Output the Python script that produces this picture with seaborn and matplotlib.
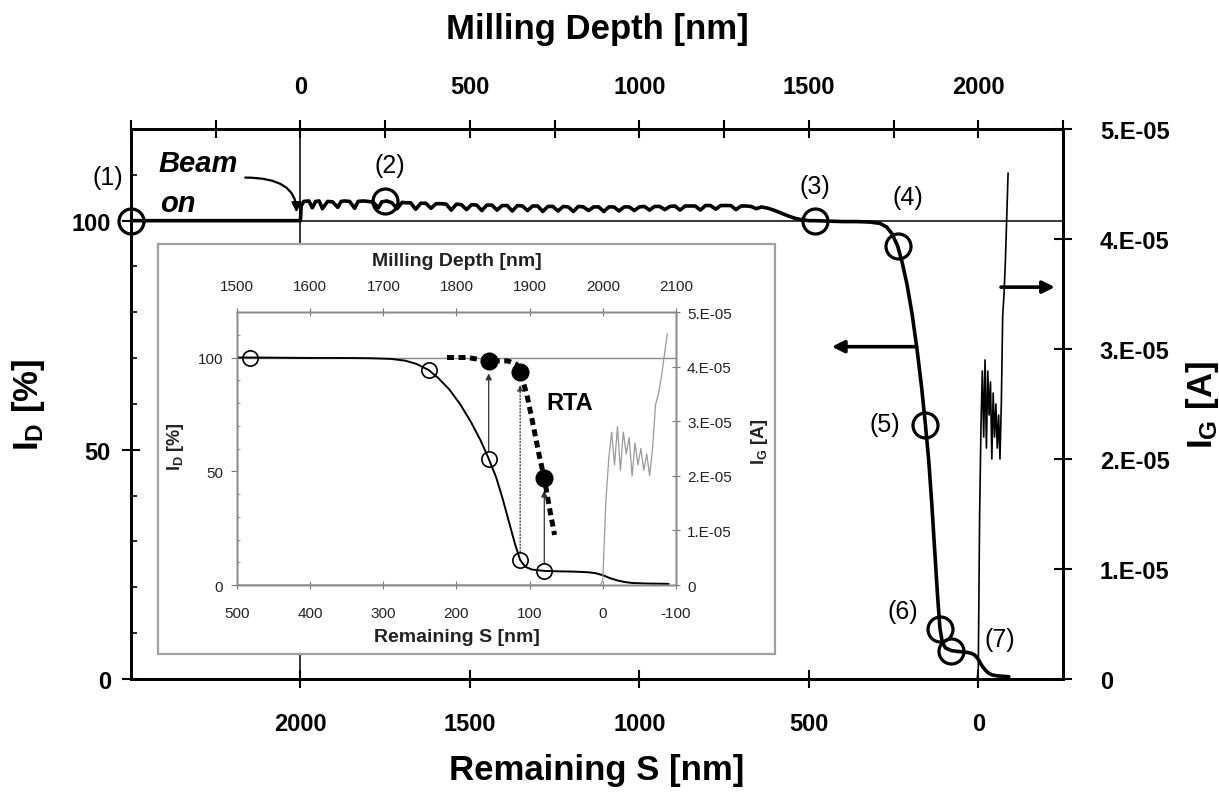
import matplotlib
matplotlib.use("Agg")
import matplotlib.pyplot as plt
import seaborn as sns
from matplotlib.patches import Rectangle

# ---------------- data ----------------
# I_D trace (remaining S [nm], I_D [%]) : before beam on
pre_s = [2500, 2000]
pre_v = [100, 100]
# noisy plateau while milling
plat_s = [1998, 1990, 1975, 1965, 1955, 1945, 1935, 1920, 1905, 1890,
          1880, 1870, 1855, 1840, 1830, 1815, 1800, 1785, 1770, 1760,
          1745, 1730, 1715, 1700, 1690, 1675, 1660, 1645, 1630, 1615,
          1600, 1585, 1570, 1555, 1540, 1525, 1510, 1495, 1480, 1465,
          1450, 1435, 1420, 1405, 1390, 1375, 1360, 1345, 1330, 1315,
          1300, 1285, 1270, 1255, 1240, 1225, 1210, 1195, 1180, 1165,
          1150, 1135, 1120, 1105, 1090, 1075, 1060, 1045, 1030, 1015,
          1000, 985, 970, 955, 940, 925, 910, 895, 880, 865,
          850, 835, 820, 805, 790, 775, 760, 745, 730, 715,
          700, 685, 670, 655, 640, 620, 600, 580, 560, 540,
          520, 500]
plat_v = [103.2, 104.2, 104.3, 102.8, 104.2, 104.3, 102.6, 104.2, 104.1, 102.9,
          104.2, 104.3, 104.2, 102.7, 104.2, 104.3, 104.2, 104.0, 102.8, 104.1,
          104.3, 103.9, 102.6, 104.0, 103.9, 103.9, 102.5, 103.8, 103.8, 102.7,
          103.7, 103.7, 103.6, 102.3, 103.6, 103.5, 102.4, 103.5, 103.4, 102.2,
          103.4, 103.4, 102.3, 103.3, 103.3, 102.1, 103.3, 103.2, 102.2, 103.2,
          103.2, 102.0, 103.1, 103.1, 102.1, 103.1, 103.0, 102.0, 103.1, 103.0,
          102.2, 103.0, 103.0, 102.0, 103.0, 103.0, 102.1, 103.0, 103.0, 102.2,
          103.0, 103.1, 102.3, 103.1, 103.1, 102.4, 103.1, 103.2, 102.3, 103.2,
          103.2, 103.2, 102.3, 103.3, 103.3, 102.5, 103.3, 103.3, 103.3, 102.4,
          103.2, 103.2, 103.1, 102.6, 103.0, 102.7, 102.2, 101.6, 101.0, 100.5,
          100.2, 100.0]
# drop-off near the channel
drop_s = [482, 440, 400, 360, 320, 290, 270, 255, 238, 225,
          210, 195, 180, 167, 156, 146, 137, 128, 120, 113,
          106, 97, 80, 60, 40, 20, 10, 0, -10, -20,
          -30, -40, -55, -70, -90]
drop_v = [100.0, 99.9, 99.8, 99.8, 99.7, 99.4, 98.6, 97.2, 94.5, 91.0,
          86.0, 79.5, 71.5, 63.5, 55.5, 47.5, 38.0, 27.5, 18.0, 11.0,
          8.0, 6.8, 6.2, 6.0, 5.9, 5.6, 5.2, 4.3, 3.0, 2.0,
          1.3, 0.9, 0.7, 0.6, 0.5]

# gate current I_G [A] vs remaining S
ig_s = [2500, 3, 0, -4, -8, -12, -16, -20, -24, -28, -32, -36, -40,
        -44, -48, -52, -56, -60, -64, -68, -72, -76, -80, -84, -88]
ig_a = [0, 0, 0.1e-5, 1.5e-5, 2.3e-5, 2.8e-5, 2.2e-5, 2.9e-5, 2.1e-5, 2.8e-5,
        2.4e-5, 2.7e-5, 2.0e-5, 2.6e-5, 2.2e-5, 2.5e-5, 2.1e-5, 2.4e-5, 2.0e-5,
        2.5e-5, 3.3e-5, 3.5e-5, 3.8e-5, 4.2e-5, 4.6e-5]

# marked points (1)..(7)
mark_s = [2500, 1750, 482, 238, 156, 113, 80]
mark_v = [100, 104.3, 100, 94.5, 55.5, 11.0, 6.2]
mark_labels = ["(1)", "(2)", "(3)", "(4)", "(5)", "(6)", "(7)"]
mark_label_s = [2568, 1736, 482, 207, 275, 222, -64]
mark_label_v = [109.5, 112.2, 107.6, 105.2, 55.6, 14.8, 8.7]

# inset: after RTA
rta_s = [213, 185, 156, 130, 118, 113, 104, 95, 87, 80, 73, 66]
rta_v = [100, 100, 98.5, 98.5, 97, 93.5, 84, 70, 57, 47, 34, 22]
rta_pt_s = [156, 113, 80]
rta_pt_v = [98.5, 93.5, 47]
inset_open_s = [482, 238, 156, 113, 80]
inset_open_v = [100, 94.5, 55.5, 11.0, 6.2]

# ticks
bot_major = [2000, 1500, 1000, 500, 0]
bot_labels = ["2000", "1500", "1000", "500", "0"]
bot_minor = [2500, 2250, 1750, 1250, 750, 250, -250]
top_major = [0, 500, 1000, 1500, 2000]
top_labels = ["0", "500", "1000", "1500", "2000"]
top_minor = [-500, -250, 250, 750, 1250, 1750, 2250]
left_major = [0, 50, 100]
left_minor = [10, 20, 30, 40, 60, 70, 80, 90, 110]
right_ticks = [0, 1e-5, 2e-5, 3e-5, 4e-5, 5e-5]
right_labels = ["0", "1.E-05", "2.E-05", "3.E-05", "4.E-05", "5.E-05"]
ins_x_ticks = [500, 400, 300, 200, 100, 0, -100]
ins_x_labels = ["500", "400", "300", "200", "100", "0", "-100"]
ins_top_ticks = [1500, 1600, 1700, 1800, 1900, 2000, 2100]
ins_top_labels = ["1500", "1600", "1700", "1800", "1900", "2000", "2100"]

# ---------------- style ----------------
sns.set_theme(style="ticks")
plt.rcParams['font.family'] = ['Liberation Sans', 'DejaVu Sans']
plt.rcParams['font.weight'] = 'bold'
plt.rcParams['mathtext.fontset'] = 'custom'
plt.rcParams['mathtext.rm'] = 'Liberation Sans:bold'
plt.rcParams['mathtext.bf'] = 'Liberation Sans:bold'
plt.rcParams['mathtext.it'] = 'Liberation Sans:bold:italic'
for k in ['text.color', 'axes.labelcolor', 'xtick.color', 'ytick.color', 'axes.edgecolor']:
    plt.rcParams[k] = 'black'

id_s = pre_s + plat_s + drop_s
id_v = pre_v + plat_v + drop_v

fig = plt.figure(figsize=(12.19, 8.03), dpi=100)
ax = fig.add_axes([0.10747, 0.15318, 0.76456, 0.68493])
ax2 = ax.twinx()
axT = ax.twiny()

# reference lines
ax.axhline(100, color='black', lw=1.1, zorder=1)
ax.axvline(2000, color='black', lw=1.1, zorder=1)

# main curves
sns.lineplot(x=id_s, y=id_v, ax=ax, color='black', lw=2.6, sort=False,
             estimator=None, legend=False, zorder=3)
sns.lineplot(x=mark_s, y=mark_v, ax=ax, linestyle='', marker='o', markersize=18,
             markerfacecolor='none', markeredgecolor='black', markeredgewidth=2.3,
             sort=False, estimator=None, legend=False, clip_on=False, zorder=5)
sns.lineplot(x=ig_s, y=ig_a, ax=ax2, color='black', lw=1.2, sort=False,
             estimator=None, legend=False)

ax.set_xlim(2500, -250)
ax.set_ylim(0, 120)
ax2.set_ylim(0, 5e-5)
axT.set_xlim(-500, 2250)

for a in (ax, ax2, axT):
    for sp in a.spines.values():
        sp.set_linewidth(1.8)
        sp.set_color('black')

ax.set_xticks(bot_major, labels=bot_labels)
ax.set_xticks(bot_minor, minor=True)
ax.tick_params(axis='x', which='both', direction='inout', length=13, width=1.5,
               pad=17, labelsize=17, bottom=True, top=False)
ax.set_yticks(left_major, labels=[str(t) for t in left_major])
ax.set_yticks(left_minor, minor=True)
ax.tick_params(axis='y', which='major', direction='inout', length=13, width=1.5,
               pad=8, labelsize=17, left=True, right=False)
ax.tick_params(axis='y', which='minor', direction='in', length=4, width=1.2,
               left=True, right=False)

axT.set_xticks(top_major, labels=top_labels)
axT.set_xticks(top_minor, minor=True)
axT.tick_params(axis='x', which='both', direction='inout', length=13, width=1.5,
                pad=16, labelsize=17, top=True, bottom=False, labeltop=True, labelbottom=False)

ax2.set_yticks(right_ticks, labels=right_labels)
ax2.tick_params(axis='y', which='major', direction='inout', length=13, width=1.5,
                pad=20, labelsize=17, right=True, left=False)
ax2.minorticks_off()

ax.set_xlabel("Remaining S [nm]", fontsize=25, fontweight='bold')
ax.xaxis.set_label_coords(0.5, -0.164)
ax.xaxis.label.set_va('center')
axT.set_xlabel("Milling Depth [nm]", fontsize=25, fontweight='bold')
axT.xaxis.set_label_coords(0.5, 1.182)
axT.xaxis.label.set_va('center')
ax.set_ylabel(r"I$_\mathrm{D}$ [%]", fontsize=25, fontweight='bold')
ax.yaxis.set_label_coords(-0.1105, 0.5)
ax.yaxis.label.set_va('center')
ax2.set_ylabel(r"I$_\mathrm{G}$ [A]", fontsize=25, fontweight='bold', rotation=90)
ax2.yaxis.set_label_coords(1.150, 0.5)
ax2.yaxis.label.set_va('center')

# point labels
for s, v, t in zip(mark_label_s, mark_label_v, mark_labels):
    ax.text(s, v, t, fontsize=18, fontweight='normal', ha='center', va='center', clip_on=False)

# Beam on
ax.text(2420, 110.8, "Beam", fontsize=21, style='italic', fontweight='bold', ha='left', va='baseline')
ax.text(2414, 102.1, "on", fontsize=21, style='italic', fontweight='bold', ha='left', va='baseline')
ax.annotate("", xy=(2012, 101.8), xytext=(2163, 109.4),
            arrowprops=dict(arrowstyle='-|>', lw=1.6, color='black', mutation_scale=14,
                            connectionstyle='angle3,angleA=0,angleB=90', shrinkA=0, shrinkB=0))
# axis arrows
ax.annotate("", xy=(432, 72.5), xytext=(182, 72.5),
            arrowprops=dict(arrowstyle='-|>', lw=2.6, color='black', mutation_scale=18,
                            shrinkA=0, shrinkB=0))
ax.annotate("", xy=(-226, 85.5), xytext=(-67, 85.5),
            arrowprops=dict(arrowstyle='-|>', lw=2.6, color='black', mutation_scale=18,
                            shrinkA=0, shrinkB=0), annotation_clip=False)

# ---------------- inset ----------------
box = Rectangle((0.12961, 0.18431), 0.50615, 0.51059, transform=fig.transFigure,
                facecolor='white', edgecolor='#a0a0a0', lw=1.6, zorder=2)
fig.add_artist(box)

ins = fig.add_axes([0.19442, 0.27023, 0.36013, 0.33998])
insR = ins.twinx()
insT = ins.twiny()
for a in (ins, insR, insT):
    a.set_zorder(3)
ins.patch.set_alpha(0)

gray = '#8a8a8a'
ins.axhline(100, color=gray, lw=1.0, zorder=1)
sns.lineplot(x=id_s, y=id_v, ax=ins, color='black', lw=1.4, sort=False,
             estimator=None, legend=False, zorder=3)
sns.lineplot(x=rta_s, y=rta_v, ax=ins, color='black', lw=3.6, sort=False,
             estimator=None, legend=False, linestyle=(0, (1.4, 0.9)), zorder=4)
sns.lineplot(x=inset_open_s, y=inset_open_v, ax=ins, linestyle='', marker='o',
             markersize=11, markerfacecolor='none', markeredgecolor='black',
             markeredgewidth=1.2, sort=False, estimator=None, legend=False,
             clip_on=False, zorder=5)
sns.lineplot(x=rta_pt_s, y=rta_pt_v, ax=ins, linestyle='', marker='o',
             markersize=12, markerfacecolor='black', markeredgecolor='black',
             markeredgewidth=1.0, sort=False, estimator=None, legend=False, zorder=5)
sns.lineplot(x=ig_s, y=ig_a, ax=insR, color='#999999', lw=0.9, sort=False,
             estimator=None, legend=False)

arrow_styles = ['-', ':', '-']
for s, v0, v1, ls in zip(rta_pt_s, inset_open_v[2:], rta_pt_v, arrow_styles):
    ins.annotate("", xy=(s, v1 - 5.5), xytext=(s, v0 + 3.5),
                 arrowprops=dict(arrowstyle='-|>', lw=0.9, color='#333333', linestyle=ls,
                                 mutation_scale=9, shrinkA=0, shrinkB=0))

ins.text(45, 80.4, "RTA", fontsize=17, fontweight='bold', ha='center', va='center')

ins.set_xlim(500, -100)
ins.set_ylim(0, 120)
insR.set_ylim(0, 5e-5)
insT.set_xlim(1500, 2100)

for a in (ins, insR, insT):
    for sp in a.spines.values():
        sp.set_linewidth(1.0)
        sp.set_color(gray)

ins.set_xticks(ins_x_ticks, labels=ins_x_labels, fontweight='normal')
ins.tick_params(axis='x', which='major', direction='inout', length=6, width=0.8,
                color='#777777', labelcolor='#222222', labelsize=11, pad=12,
                bottom=True, top=False)
ins.set_yticks(left_major, labels=[str(t) for t in left_major], fontweight='normal')
ins.set_yticks(left_minor, minor=True)
ins.tick_params(axis='y', which='major', direction='out', length=4, width=0.8,
                color='#777777', labelcolor='#222222', labelsize=11, pad=6,
                left=True, right=False)
ins.tick_params(axis='y', which='minor', direction='in', length=2.5, width=0.8,
                color='#999999', left=True, right=False)
insT.set_xticks(ins_top_ticks, labels=ins_top_labels, fontweight='normal')
insT.tick_params(axis='x', which='major', direction='inout', length=6, width=0.8,
                 color='#777777', labelcolor='#222222', labelsize=11, pad=11,
                 top=True, bottom=False, labeltop=True, labelbottom=False)
insR.set_yticks(right_ticks, labels=right_labels, fontweight='normal')
insR.tick_params(axis='y', which='major', direction='inout', length=6, width=0.8,
                 color='#777777', labelcolor='#222222', labelsize=11, pad=5,
                 right=True, left=False)
insR.minorticks_off()

ins.set_xlabel("Remaining S [nm]", fontsize=14, fontweight='bold', color='#222222')
ins.xaxis.set_label_coords(0.5, -0.187)
ins.xaxis.label.set_va('center')
insT.set_xlabel("Milling Depth [nm]", fontsize=14, fontweight='bold', color='#222222')
insT.xaxis.set_label_coords(0.5, 1.19)
insT.xaxis.label.set_va('center')
ins.set_ylabel(r"I$_\mathrm{D}$ [%]", fontsize=13, fontweight='bold', color='#222222')
ins.yaxis.set_label_coords(-0.139, 0.51)
ins.yaxis.label.set_va('center')
insR.set_ylabel(r"I$_\mathrm{G}$ [A]", fontsize=13, fontweight='bold', color='#222222', rotation=90)
insR.yaxis.set_label_coords(1.191, 0.527)
insR.yaxis.label.set_va('center')

fig.savefig("out.png", dpi=100)
